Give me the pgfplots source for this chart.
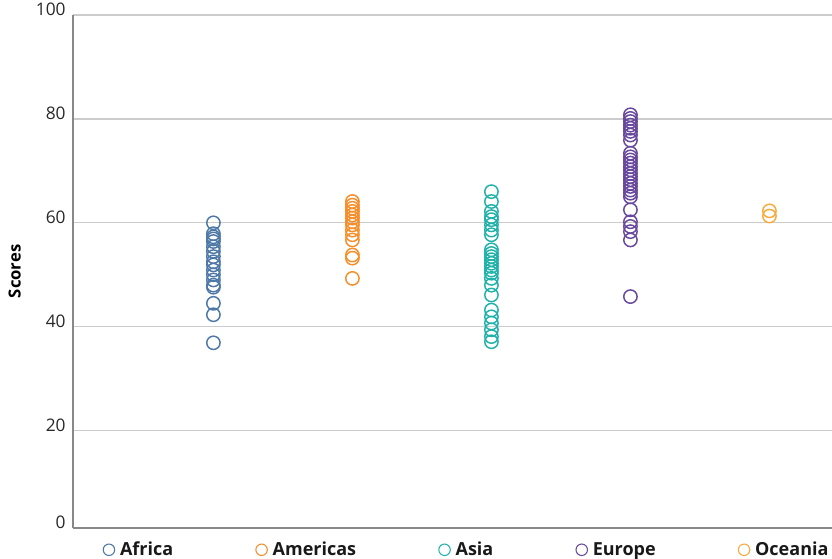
\documentclass[border=0pt]{standalone}
\usepackage{pgfplots}
\pgfplotsset{compat=1.18}
\usepackage{fontspec}
\setmainfont{Open Sans}
\definecolor{cAfr}{RGB}{78,121,167}
\definecolor{cAme}{RGB}{245,142,43}
\definecolor{cAsi}{RGB}{32,178,170}
\definecolor{cEur}{RGB}{104,72,156}
\definecolor{cOce}{RGB}{250,170,60}
\definecolor{gridc}{RGB}{204,204,204}
\definecolor{axc}{RGB}{136,136,136}
\definecolor{txt}{RGB}{40,40,40}
\begin{document}
\begin{tikzpicture}
\begin{axis}[
  at={(54.75pt,23.45pt)}, anchor=south west,
  scale only axis, width=569.25pt, height=384.5pt,
  xmin=-1.01, xmax=4.45, ymin=1.3, ymax=100,
  xtick=\empty,
  ytick={1.3,20,40,60,80,100},
  yticklabels={0,20,40,60,80,100},
  /pgf/number format/assume math mode=true,
  major tick length=0pt,
  ymajorgrids, grid style={gridc, line width=1pt},
  axis x line=bottom, axis y line=left,
  axis line style={-, axc},
  x axis line style={line width=1.5pt},
  y axis line style={line width=1pt},
  tick label style={font=\fontsize{13}{15}\selectfont, text=txt},
  yticklabel style={xshift=-2pt, yshift=4pt},
  ylabel={\textbf{Scores}},
  ylabel style={font=\fontsize{12.5}{14}\selectfont, text=black, yshift=4.5pt},
  legend columns=5,
  legend style={draw=none, fill=none, at={(rel axis cs:0.0342,-0.043)}, anchor=west,
    font=\bfseries\fontsize{13.5}{15}\selectfont, text=black!90,
    /tikz/every odd column/.append style={column sep=2pt},
    /tikz/every even column/.append style={column sep=60pt}},
  legend image code/.code={\draw[#1, mark size=4.3pt, line width=0.8pt] plot coordinates {(2pt,0pt)};},
  legend cell align=left,
  clip=false,
]
\addplot[only marks, mark=o, mark size=5pt, line width=1.1pt, color=cAfr] coordinates {
(0,60.0)(0,57.9)(0,57.3)(0,56.9)(0,56.4)(0,55.4)(0,54.5)(0,53.5)(0,52.5)(0,51.9)(0,50.9)(0,50.0)(0,49.0)(0,48.0)(0,47.6)(0,44.5)(0,42.3)(0,36.9)};
\addlegendentry{Africa}
\addplot[only marks, mark=o, mark size=5pt, line width=1.1pt, color=cAme] coordinates {
(1,64.1)(1,63.4)(1,62.8)(1,62.2)(1,61.5)(1,60.9)(1,60.2)(1,59.6)(1,58.6)(1,57.7)(1,56.7)(1,53.8)(1,53.2)(1,49.3)};
\addlegendentry{Americas}
\addplot[only marks, mark=o, mark size=5pt, line width=1.1pt, color=cAsi] coordinates {
(2,66.0)(2,64.1)(2,62.2)(2,61.2)(2,60.6)(2,59.6)(2,58.6)(2,57.7)(2,54.8)(2,54.1)(2,53.5)(2,52.9)(2,52.2)(2,51.6)(2,50.9)(2,50.3)(2,49.3)(2,48.0)(2,46.1)(2,43.2)(2,41.9)(2,40.7)(2,39.4)(2,38.1)(2,37.1)};
\addlegendentry{Asia}
\addplot[only marks, mark=o, mark size=5pt, line width=1.1pt, color=cEur] coordinates {
(3,80.8)(3,80.1)(3,79.5)(3,78.8)(3,78.2)(3,77.6)(3,76.9)(3,75.9)(3,73.4)(3,72.7)(3,72.1)(3,71.5)(3,70.8)(3,70.2)(3,69.5)(3,68.9)(3,68.3)(3,67.6)(3,67.0)(3,66.3)(3,65.7)(3,65.0)(3,62.5)(3,60.2)(3,59.3)(3,58.3)(3,56.7)(3,45.8)};
\addlegendentry{Europe}
\addplot[only marks, mark=o, mark size=5pt, line width=1.1pt, color=cOce] coordinates {
(4,62.3)(4,61.3)};
\addlegendentry{Oceania}
\end{axis}
\pgfresetboundingbox
\useasboundingbox (0,0) rectangle (624pt,419.25pt);
\end{tikzpicture}
\end{document}
